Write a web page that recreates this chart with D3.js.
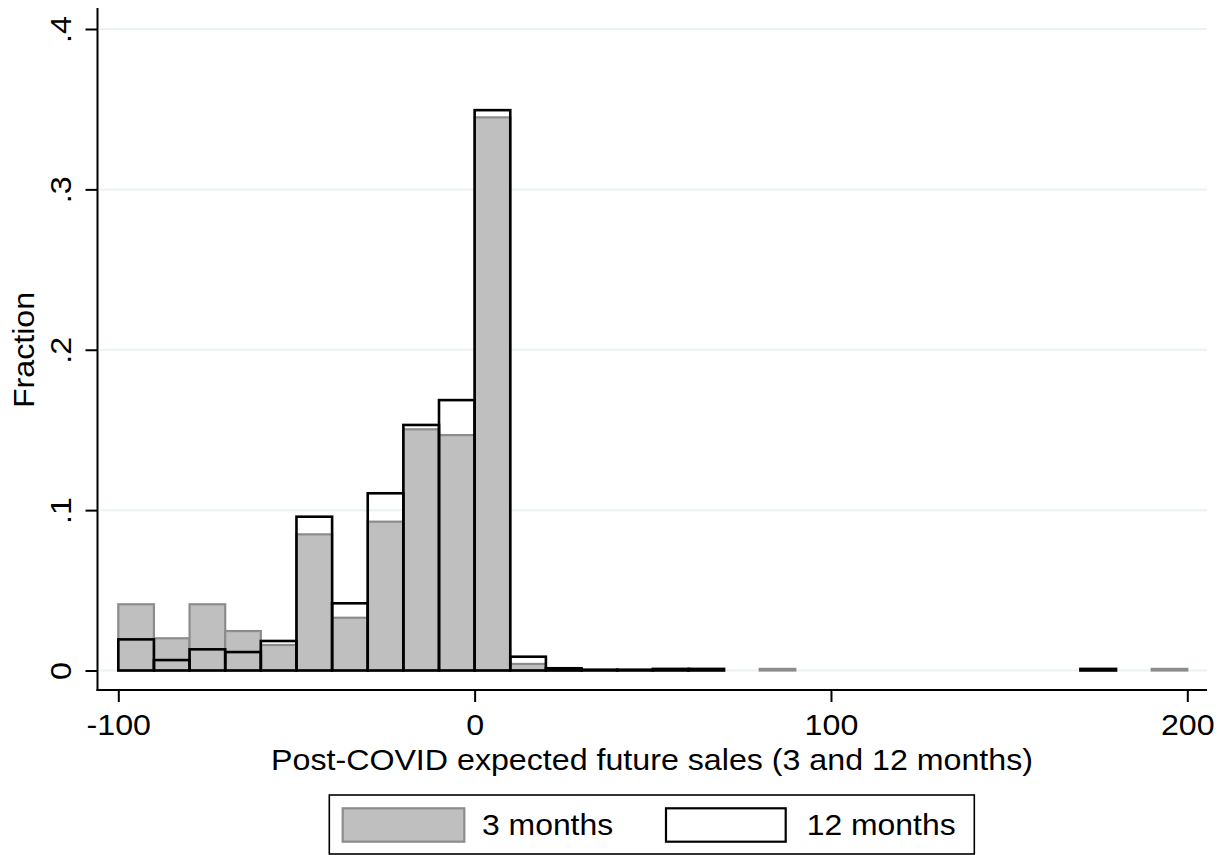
<!DOCTYPE html>
<html>
<head>
<meta charset="utf-8">
<script src="https://cdn.jsdelivr.net/npm/d3@7/dist/d3.min.js"></script>
<style>
  html, body { margin: 0; padding: 0; background: #fff; }
  svg { display: block; }
  text { font-family: "Liberation Sans", Arial, Helvetica, sans-serif; fill: #000; }
</style>
</head>
<body>
<svg id="chart" width="1228" height="855"></svg>
<script>
// ---- data ----
const binStarts = [-100, -90, -80, -70, -60, -50, -40, -30, -20, -10,
                   0, 10, 20, 30, 40, 50, 60, 70, 80, 90,
                   100, 110, 120, 130, 140, 150, 160, 170, 180, 190];
const binWidth = 10;
const threeMonths = [0.0413, 0.0201, 0.0413, 0.0246, 0.0159, 0.0849, 0.0329, 0.0928, 0.1504, 0.1468,
                     0.3449, 0.0041, 0.0010, 0, 0, 0, 0, 0, 0.0010, 0,
                     0, 0, 0, 0, 0, 0, 0, 0, 0, 0.0010];
const twelveMonths = [0.0194, 0.0065, 0.0132, 0.0115, 0.0184, 0.0959, 0.0419, 0.1105, 0.1531, 0.1686,
                      0.3494, 0.0086, 0.0014, 0.0005, 0.0005, 0.0010, 0.0010, 0, 0, 0,
                      0, 0, 0, 0, 0, 0, 0, 0.0010, 0, 0];
const xTicks = [-100, 0, 100, 200];
const xTickLabels = ["-100", "0", "100", "200"];
const yTicks = [0, 0.1, 0.2, 0.3, 0.4];
const yTickLabels = ["0", ".1", ".2", ".3", ".4"];
const seriesNames = ["3 months", "12 months"];
const xTitle = "Post-COVID expected future sales (3 and 12 months)";
const yTitle = "Fraction";

// ---- layout ----
const svg = d3.select("#chart");
const plotLeft = 97.5, plotRight = 1207, plotTop = 8, plotBottom = 690;
const x = d3.scaleLinear().domain([-100, 200]).range([118.3, 1187.3]);
const y = d3.scaleLinear().domain([0, 0.4]).range([670.5, 29]);
const stretch = 1.11;
const fs = 29;

// gridlines
svg.append("g").selectAll("line").data(yTicks).join("line")
  .attr("x1", plotLeft + 2).attr("x2", plotRight)
  .attr("y1", d => y(d)).attr("y2", d => y(d))
  .attr("stroke", "#eaf2f3").attr("stroke-width", 2);

// bars
const bars3 = binStarts.map((b, i) => ({ b, v: threeMonths[i] })).filter(d => d.v > 0);
const bars12 = binStarts.map((b, i) => ({ b, v: twelveMonths[i] })).filter(d => d.v > 0);

svg.append("g").selectAll("rect").data(bars3).join("rect")
  .attr("x", d => x(d.b)).attr("width", d => x(d.b + binWidth) - x(d.b))
  .attr("y", d => y(d.v)).attr("height", d => y(0) - y(d.v))
  .attr("fill", "#bfbfbf").attr("stroke", "#8c8c8c").attr("stroke-width", 2.2);

svg.append("g").selectAll("rect").data(bars12).join("rect")
  .attr("x", d => x(d.b)).attr("width", d => x(d.b + binWidth) - x(d.b))
  .attr("y", d => y(d.v)).attr("height", d => y(0) - y(d.v))
  .attr("fill", "none").attr("stroke", "#000").attr("stroke-width", 2.6);

// x axis
const xAxis = d3.axisBottom(x).tickValues(xTicks).tickSize(12).tickPadding(0)
  .tickFormat((d, i) => xTickLabels[i]);
const gx = svg.append("g").attr("transform", `translate(0,${plotBottom})`).call(xAxis);
gx.select(".domain").remove();
gx.selectAll(".tick line").attr("stroke", "#000").attr("stroke-width", 2);
gx.selectAll(".tick text").attr("font-size", fs).attr("y", null).attr("dy", null)
  .attr("transform", `translate(0,45) scale(${stretch},1)`);
gx.append("line").attr("x1", plotLeft - 1).attr("x2", plotRight).attr("y1", 0).attr("y2", 0)
  .attr("stroke", "#000").attr("stroke-width", 2);

// y axis
const yAxis = d3.axisLeft(y).tickValues(yTicks).tickSize(12).tickPadding(0)
  .tickFormat((d, i) => yTickLabels[i]);
const gy = svg.append("g").attr("transform", `translate(${plotLeft},0)`).call(yAxis);
gy.select(".domain").remove();
gy.selectAll(".tick line").attr("stroke", "#000").attr("stroke-width", 2);
gy.selectAll(".tick text").attr("font-size", fs).attr("x", null).attr("dy", null)
  .attr("text-anchor", "middle")
  .attr("transform", `translate(-27,0) rotate(-90) scale(${stretch},1)`);
gy.append("line").attr("x1", 0).attr("x2", 0).attr("y1", plotTop).attr("y2", plotBottom + 1)
  .attr("stroke", "#000").attr("stroke-width", 2);

// axis titles
svg.append("text").attr("text-anchor", "middle").attr("font-size", fs)
  .attr("transform", `translate(652,770) scale(${stretch},1)`).text(xTitle);
svg.append("text").attr("text-anchor", "middle").attr("font-size", fs)
  .attr("transform", `translate(33.5,350) rotate(-90) scale(${stretch},1)`).text(yTitle);

// legend
const lg = svg.append("g");
lg.append("rect").attr("x", 329.3).attr("y", 795).attr("width", 645).attr("height", 59)
  .attr("fill", "#fff").attr("stroke", "#000").attr("stroke-width", 1.6);
const legendItems = [
  { name: seriesNames[0], sx: 342.7, sw: 121.6, tx: 482, fill: "#bfbfbf", stroke: "#8c8c8c" },
  { name: seriesNames[1], sx: 666, sw: 119.7, tx: 806.7, fill: "#fff", stroke: "#000" }
];
legendItems.forEach(it => {
  lg.append("rect").attr("x", it.sx).attr("y", 808.3).attr("width", it.sw).attr("height", 33.4)
    .attr("fill", it.fill).attr("stroke", it.stroke).attr("stroke-width", 2.2);
  lg.append("text").attr("font-size", 29)
    .attr("transform", `translate(${it.tx},835) scale(1.1,1)`).text(it.name);
});
</script>
</body>
</html>
